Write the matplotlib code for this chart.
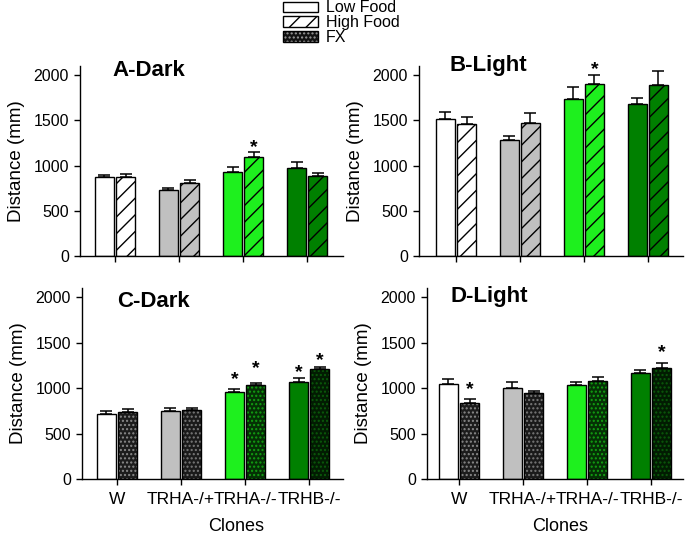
import matplotlib
matplotlib.use('Agg')
import matplotlib.pyplot as plt
import numpy as np
from matplotlib.patches import Patch
from matplotlib.transforms import offset_copy

plt.rcParams['font.family'] = ['Liberation Sans', 'DejaVu Sans']
plt.rcParams['hatch.linewidth'] = 1.0

groups = ['W', 'TRHA-/+', 'TRHA-/-', 'TRHB-/-']
colors = ['#ffffff', '#c0c0c0', '#1ef01e', '#008000']
fx_colors = ['#1c1c1c', '#1a1a1a', '#053005', '#021c02']
fx_dots = ['#8a8a8a', '#7a7a7a', '#12a012', '#0a5a0a']
legend_labels = ['Low Food', 'High Food', 'FX']

# A - dark
a_low = [870, 725, 925, 975]
a_low_err = [20, 30, 60, 60]
a_high = [875, 805, 1090, 885]
a_high_err = [30, 35, 55, 35]
# B - light
b_low = [1510, 1280, 1735, 1675]
b_low_err = [80, 45, 135, 75]
b_high = [1460, 1470, 1905, 1895]
b_high_err = [75, 115, 100, 145]
# C - dark
c_low = [718, 745, 952, 1062]
c_low_err = [25, 35, 40, 45]
c_fx = [740, 755, 1033, 1209]
c_fx_err = [30, 25, 25, 25]
# D - light
d_low = [1047, 1004, 1029, 1160]
d_low_err = [55, 58, 40, 43]
d_fx = [840, 945, 1077, 1222]
d_fx_err = [35, 25, 47, 55]

# significance stars: (group, series, height)
a_stars = [(2, 1, 1214)]
b_stars = [(2, 1, 2081)]
c_stars = [(2, 0, 1110), (2, 1, 1231), (3, 0, 1183), (3, 1, 1319)]
d_stars = [(0, 1, 996), (3, 1, 1409)]

W, H = 685, 534
fig = plt.figure(figsize=(W / 100, H / 100), dpi=100)


def make_ax(l, r, t, b):
    return fig.add_axes([l / W, (H - b) / H, (r - l) / W, (b - t) / H])


panels = [
    dict(box=(80, 343, 66, 256), xlim=(-0.547, 3.56), title='A-Dark', tpos=(0.122, 0.947),
         kind='high', low=a_low, low_err=a_low_err, s2=a_high, s2_err=a_high_err, stars=a_stars),
    dict(box=(419, 683, 66, 256), xlim=(-0.578, 3.55), title='B-Light', tpos=(0.117, 0.974),
         kind='high', low=b_low, low_err=b_low_err, s2=b_high, s2_err=b_high_err, stars=b_stars),
    dict(box=(82, 343, 288, 479), xlim=(-0.547, 3.53), title='C-Dark', tpos=(0.134, 0.90),
         kind='fx', low=c_low, low_err=c_low_err, s2=c_fx, s2_err=c_fx_err, stars=c_stars,
         xlab=0.59),
    dict(box=(427, 683, 288, 479), xlim=(-0.5, 3.5), title='D-Light', tpos=(0.09, 0.927),
         kind='fx', low=d_low, low_err=d_low_err, s2=d_fx, s2_err=d_fx_err, stars=d_stars,
         xlab=0.52),
]

x = np.arange(len(groups))
bw = 0.29
off = 0.165

for p in panels:
    ax = make_ax(*p['box'])
    xl = x - off
    xr = x + off
    ax.bar(xl, p['low'], bw, color=colors, edgecolor='k', linewidth=1.0, zorder=2)
    if p['kind'] == 'high':
        ax.bar(xr, p['s2'], bw, color=colors, edgecolor='k', linewidth=1.0, hatch='//', zorder=2)
    else:
        for i in range(len(groups)):
            ax.bar(xr[i], p['s2'][i], bw, color=fx_colors[i], edgecolor=fx_dots[i],
                   linewidth=0, hatch='....', zorder=2)
        ax.bar(xr, p['s2'], bw, fill=False, edgecolor='k', linewidth=1.0, zorder=2.1)
    ax.errorbar(xl, p['low'], yerr=[np.zeros(4), p['low_err']], fmt='none', ecolor='k',
                elinewidth=1.1, capsize=4, capthick=1.1, zorder=1)
    ax.errorbar(xr, p['s2'], yerr=[np.zeros(4), p['s2_err']], fmt='none', ecolor='k',
                elinewidth=1.1, capsize=4, capthick=1.1, zorder=1)

    star_tr = offset_copy(ax.transData, fig=fig, y=-0.56 * 14 + 3.5, units='points')
    for g, s, h in p['stars']:
        xs = xl[g] if s == 0 else xr[g]
        ax.text(xs, h, '*', transform=star_tr, ha='center', va='baseline',
                fontsize=14, fontweight='bold', clip_on=False)

    ax.set_xlim(*p['xlim'])
    ax.set_ylim(0, 2100)
    ax.set_yticks([0, 500, 1000, 1500, 2000])
    ax.set_xticks(x)
    ax.spines['top'].set_visible(False)
    ax.spines['right'].set_visible(False)
    for sp in ('left', 'bottom'):
        ax.spines[sp].set_linewidth(1.0)
    ax.tick_params(axis='y', direction='out', length=4, width=1, pad=4, labelsize=11.5)
    ax.tick_params(axis='x', direction='out', length=4.5, width=1, pad=5, labelsize=12.5)
    ax.set_ylabel('Distance (mm)', fontsize=13.5, labelpad=6)
    if p['kind'] == 'fx':
        ax.set_xticklabels(groups)
        ax.set_xlabel('Clones', fontsize=13)
        ax.xaxis.set_label_coords(p['xlab'], -0.205)
    else:
        ax.set_xticklabels([])
    ax.text(p['tpos'][0], p['tpos'][1], p['title'], transform=ax.transAxes,
            ha='left', va='baseline', fontsize=16, fontweight='bold')

handles = [
    Patch(facecolor='white', edgecolor='k', linewidth=1.0),
    Patch(facecolor='white', edgecolor='k', linewidth=1.0, hatch='//'),
    (Patch(facecolor='#111111', edgecolor='#9a9a9a', linewidth=0, hatch='....'),
     Patch(fill=False, edgecolor='k', linewidth=1.0)),
]
fig.legend(handles, legend_labels, loc='upper left', bbox_to_anchor=(283 / W, 1 - 0.5 / H),
           frameon=False, fontsize=11.5, handlelength=2.2, handleheight=0.65,
           labelspacing=-0.02, handletextpad=0.5, borderpad=0, borderaxespad=0)

fig.savefig('out.png', dpi=100)
